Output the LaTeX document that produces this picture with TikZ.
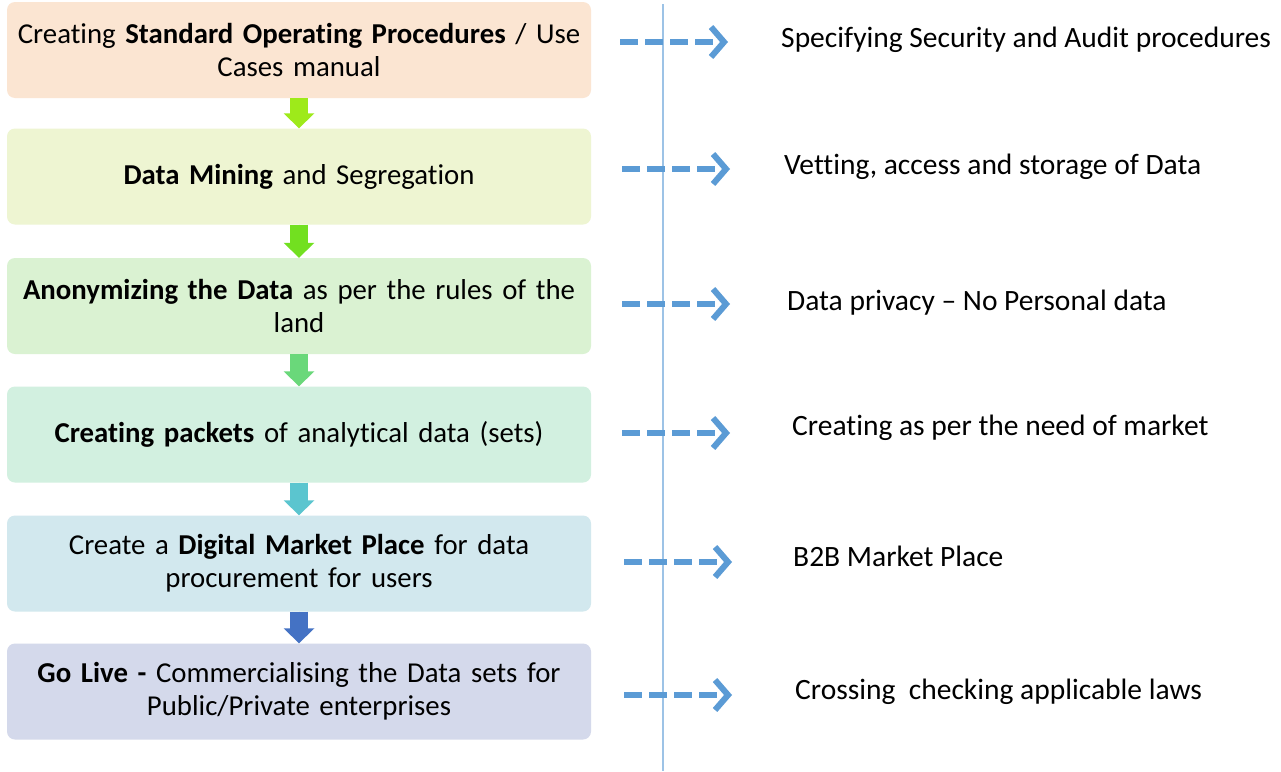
\documentclass[tikz,border=0pt]{standalone}
\usepackage{fontspec}
\setmainfont{Carlito}[Ligatures=NoCommon]
\usetikzlibrary{arrows.meta}
\definecolor{bxA}{HTML}{FBE5D2}
\definecolor{bxB}{HTML}{EEF5D2}
\definecolor{bxC}{HTML}{DAF2D2}
\definecolor{bxD}{HTML}{D2F0E0}
\definecolor{bxE}{HTML}{D2E8EE}
\definecolor{bxF}{HTML}{D4D9EB}
\definecolor{arA}{HTML}{9EEA1A}
\definecolor{arB}{HTML}{72E020}
\definecolor{arC}{HTML}{6AD87A}
\definecolor{arD}{HTML}{5BC5CF}
\definecolor{arE}{HTML}{4472C4}
\definecolor{dashblue}{HTML}{5B9BD5}
\definecolor{vline}{HTML}{9DC3E6}
\tikzset{
  stepbox/.style={rounded corners=8pt, minimum width=584pt, minimum height=96pt,
    text width=580pt, align=center, inner sep=0pt,
    font=\fontsize{28.8}{33}\selectfont},
  flowarrow/.style={line width=18pt, -{Triangle[width=30pt,length=15pt]}},
  dasharrow/.style={draw=dashblue, line width=6pt, dash pattern=on 18pt off 7pt,
    -{Straight Barb[length=13pt,width=30pt]}},
  sidetext/.style={anchor=west, inner sep=0pt, font=\fontsize{29.5}{33}\selectfont}
}
\begin{document}
\begin{tikzpicture}[x=1pt,y=-1pt]
\useasboundingbox (0,0) rectangle (1281,771);
\fill[white] (0,0) rectangle (1281,771);
\draw[vline, line width=1.5pt] (663,4) -- (663,771);

\node[stepbox, fill=bxA] (b1) at (299,50) {Creating \textbf{Standard Operating Procedures} / Use\\Cases manual};
\node[stepbox, fill=bxB] (b2) at (299,176.5) {\textbf{Data Mining} and Segregation};
\node[stepbox, fill=bxC] (b3) at (299,306) {\textbf{Anonymizing the Data} as per the rules of the\\land};
\node[stepbox, fill=bxD] (b4) at (299,434.5) {\textbf{Creating packets} of analytical data (sets)};
\node[stepbox, fill=bxE] (b5) at (299,563.5) {Create a \textbf{Digital Market Place} for data\\procurement for users};
\node[stepbox, fill=bxF] (b6) at (299,691.5) {\textbf{Go Live -} Commercialising the Data sets for\\Public/Private enterprises};

\draw[flowarrow, draw=arA, fill=arA] (b1.south) -- (b2.north);
\draw[flowarrow, draw=arB, fill=arB] (b2.south) -- (b3.north);
\draw[flowarrow, draw=arC, fill=arC] (b3.south) -- (b4.north);
\draw[flowarrow, draw=arD, fill=arD] (b4.south) -- (b5.north);
\draw[flowarrow, draw=arE, fill=arE] (b5.south) -- (b6.north);

\node[sidetext] (t1) at (781,40) {Specifying Security and Audit procedures};
\node[sidetext] (t2) at (784,167) {Vetting, access and storage of Data};
\node[sidetext] (t3) at (787,303) {Data privacy -- No Personal data};
\node[sidetext] (t4) at (792,428) {Creating as per the need of market};
\node[sidetext] (t5) at (793,556) {B2B Market Place};
\node[sidetext] (t6) at (795,692) {Crossing\ \ checking applicable laws};

\coordinate (s1) at (620,42);  \coordinate (e1) at (728,42);
\coordinate (s2) at (622,169); \coordinate (e2) at (730,169);
\coordinate (s3) at (622,304); \coordinate (e3) at (730,304);
\coordinate (s4) at (622,433); \coordinate (e4) at (730,433);
\coordinate (s5) at (624,562); \coordinate (e5) at (732,562);
\coordinate (s6) at (624,695); \coordinate (e6) at (732,695);
\foreach \i in {1,...,6} { \draw[dasharrow] (s\i) -- (e\i); }
\end{tikzpicture}
\end{document}
